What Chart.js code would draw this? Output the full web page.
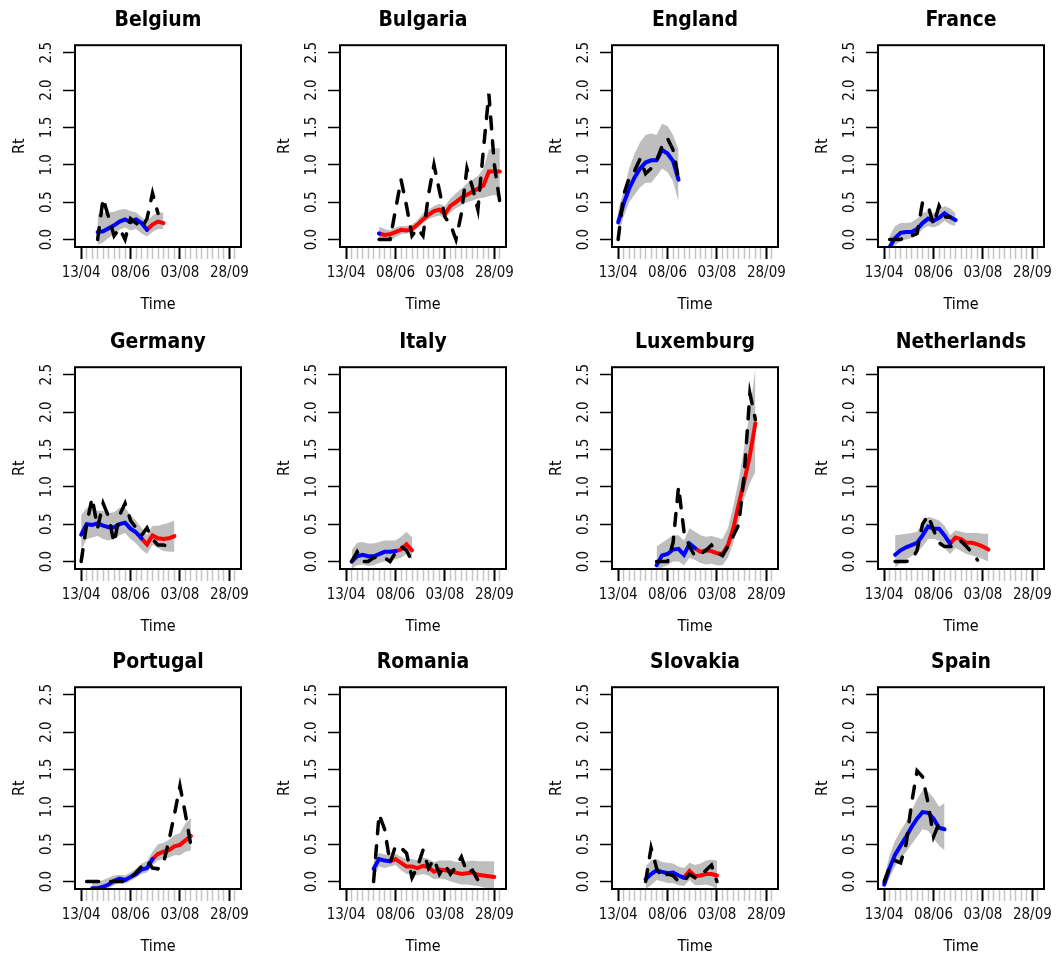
<!DOCTYPE html>
<html>
<head>
<meta charset="utf-8">
<script src="https://cdn.jsdelivr.net/npm/chart.js"></script>
<style>
  body { margin: 0; background: #fff; width: 1059px; height: 958px; overflow: hidden; position: relative; }
  canvas { position: absolute; }
</style>
</head>
<body>
<script>
// one panel per country, weekly Rt estimates (x = week index from 13/04)
const countries = ['Belgium', 'Bulgaria', 'England', 'France', 'Germany', 'Italy',
                   'Luxemburg', 'Netherlands', 'Portugal', 'Romania', 'Slovakia', 'Spain'];
const startWeek = [3, 6, 0, 1, 0, 1, 7, 2, 1, 5, 5, 0];
// week where the fitted line turns from blue to red (null = blue only)
const splitWeek = [12, 6, null, null, 11, 9, 14, 12, 13, 8, 12, null];

const fitRt = [
  [0.10, 0.11, 0.15, 0.19, 0.24, 0.27, 0.23, 0.27, 0.22, 0.13, 0.20, 0.24, 0.22],
  [0.08, 0.06, 0.07, 0.10, 0.13, 0.12, 0.14, 0.20, 0.27, 0.33, 0.38, 0.40, 0.34, 0.45, 0.50, 0.56, 0.60, 0.64, 0.68, 0.72, 0.91, 0.91, 0.91],
  [0.23, 0.48, 0.68, 0.83, 0.95, 1.03, 1.06, 1.06, 1.20, 1.15, 1.05, 0.80],
  [-0.10, 0.02, 0.09, 0.10, 0.10, 0.14, 0.22, 0.28, 0.25, 0.29, 0.35, 0.30, 0.26],
  [0.36, 0.50, 0.49, 0.51, 0.48, 0.46, 0.46, 0.50, 0.52, 0.44, 0.39, 0.31, 0.23, 0.35, 0.31, 0.30, 0.31, 0.34],
  [0.00, 0.07, 0.09, 0.07, 0.07, 0.10, 0.13, 0.13, 0.14, 0.16, 0.23, 0.15],
  [-0.05, 0.08, 0.10, 0.16, 0.17, 0.09, 0.24, 0.18, 0.13, 0.15, 0.14, 0.11, 0.10, 0.22, 0.45, 0.78, 1.08, 1.42, 1.85],
  [0.09, 0.15, 0.19, 0.22, 0.25, 0.35, 0.47, 0.44, 0.44, 0.35, 0.24, 0.32, 0.30, 0.25, 0.25, 0.23, 0.20, 0.16],
  [null, -0.09, -0.09, -0.07, -0.04, 0.01, 0.04, 0.02, 0.06, 0.10, 0.16, 0.18, 0.30, 0.37, 0.40, 0.42, 0.47, 0.49, 0.55, 0.61],
  [0.17, 0.30, 0.28, 0.27, 0.30, 0.25, 0.20, 0.20, 0.18, 0.21, 0.19, 0.13, 0.16, 0.15, 0.14, 0.12, 0.10, 0.11, 0.12, 0.09, 0.08, 0.07, 0.06],
  [0.03, 0.10, 0.15, 0.13, 0.11, 0.12, 0.08, 0.05, 0.14, 0.07, 0.08, 0.10, 0.10, 0.08],
  [-0.04, 0.18, 0.36, 0.48, 0.60, 0.73, 0.84, 0.93, 0.92, 0.84, 0.72, 0.70]
];
const lowerRt = [
  [-0.07, -0.04, 0.02, 0.07, 0.13, 0.16, 0.12, 0.14, 0.08, 0.04, 0.10, 0.14, 0.14],
  [0.00, -0.01, -0.02, 0.03, 0.07, 0.08, 0.10, 0.15, 0.22, 0.27, 0.30, 0.32, 0.28, 0.36, 0.42, 0.46, 0.50, 0.52, 0.55, 0.56, 0.58, 0.60, 0.55],
  [0.05, 0.30, 0.50, 0.60, 0.70, 0.76, 0.76, 0.85, 0.95, 0.90, 0.78, 0.50],
  [-0.20, -0.08, -0.02, 0.00, 0.02, 0.05, 0.14, 0.18, 0.16, 0.19, 0.25, 0.20, 0.18],
  [0.15, 0.30, 0.32, 0.34, 0.30, 0.28, 0.30, 0.35, 0.38, 0.30, 0.24, 0.16, 0.10, 0.22, 0.18, 0.14, 0.13, 0.13],
  [-0.10, -0.05, -0.04, -0.06, -0.05, -0.02, 0.00, 0.02, 0.03, 0.05, 0.10, 0.03],
  [-0.12, -0.08, -0.05, 0.00, 0.00, -0.05, 0.05, 0.02, -0.02, -0.04, -0.03, -0.05, -0.05, 0.05, 0.25, 0.55, 0.85, 1.05, 1.20],
  [-0.08, -0.02, 0.03, 0.07, 0.12, 0.20, 0.30, 0.30, 0.28, 0.18, 0.10, 0.18, 0.14, 0.10, 0.08, 0.06, 0.03, 0.00],
  [null, -0.12, -0.12, -0.11, -0.09, -0.05, -0.02, -0.03, 0.01, 0.05, 0.10, 0.12, 0.22, 0.28, 0.30, 0.32, 0.35, 0.35, 0.40, 0.42],
  [0.05, 0.20, 0.18, 0.20, 0.22, 0.15, 0.10, 0.10, 0.08, 0.10, 0.08, 0.03, 0.04, 0.03, 0.00, -0.02, -0.04, -0.04, -0.05, -0.06, -0.08, -0.09, -0.10],
  [-0.10, -0.05, 0.02, 0.00, -0.02, -0.02, -0.05, -0.06, 0.02, -0.05, -0.05, -0.04, -0.06, -0.10],
  [-0.10, 0.05, 0.20, 0.30, 0.40, 0.50, 0.60, 0.70, 0.68, 0.58, 0.48, 0.42]
];
const upperRt = [
  [0.33, 0.36, 0.36, 0.37, 0.40, 0.41, 0.38, 0.36, 0.30, 0.24, 0.32, 0.36, 0.36],
  [0.17, 0.14, 0.12, 0.16, 0.18, 0.18, 0.20, 0.26, 0.35, 0.40, 0.45, 0.48, 0.45, 0.55, 0.62, 0.68, 0.75, 0.80, 0.85, 0.95, 1.20, 1.22, 1.22],
  [0.40, 0.65, 0.95, 1.15, 1.30, 1.40, 1.42, 1.40, 1.55, 1.52, 1.40, 1.20],
  [0.05, 0.18, 0.22, 0.22, 0.23, 0.28, 0.35, 0.38, 0.35, 0.40, 0.45, 0.42, 0.35],
  [0.62, 0.72, 0.73, 0.68, 0.68, 0.65, 0.66, 0.72, 0.72, 0.62, 0.55, 0.45, 0.35, 0.48, 0.48, 0.50, 0.52, 0.55],
  [0.15, 0.25, 0.26, 0.24, 0.24, 0.26, 0.28, 0.28, 0.28, 0.33, 0.40, 0.32],
  [0.20, 0.25, 0.30, 0.35, 0.35, 0.28, 0.45, 0.40, 0.35, 0.33, 0.34, 0.32, 0.30, 0.45, 0.75, 1.10, 1.55, 2.00, 2.60],
  [0.35, 0.36, 0.37, 0.38, 0.40, 0.52, 0.60, 0.58, 0.55, 0.48, 0.35, 0.42, 0.40, 0.38, 0.38, 0.38, 0.37, 0.37],
  [null, 0.00, 0.00, 0.02, 0.05, 0.08, 0.09, 0.08, 0.12, 0.17, 0.24, 0.27, 0.40, 0.50, 0.52, 0.56, 0.62, 0.65, 0.78, 0.85],
  [0.30, 0.38, 0.36, 0.35, 0.37, 0.33, 0.30, 0.30, 0.28, 0.32, 0.30, 0.26, 0.28, 0.28, 0.28, 0.26, 0.26, 0.27, 0.28, 0.27, 0.27, 0.27, 0.27],
  [0.20, 0.28, 0.30, 0.26, 0.25, 0.24, 0.20, 0.18, 0.25, 0.22, 0.24, 0.28, 0.29, 0.28],
  [0.05, 0.35, 0.55, 0.68, 0.80, 0.95, 1.10, 1.22, 1.20, 1.12, 1.00, 1.05]
];
const rawRt = [
  [0.0, 0.55, 0.30, 0.05, 0.15, 0.0, 0.28, 0.22, 0.15, 0.28, 0.62, 0.35],
  [0.0, 0.0, 0.0, 0.4, 0.8, 0.45, 0.05, 0.15, 0.05, 0.6, 1.0, 0.65, 0.3, 0.2, 0.0, 0.35, 0.95, 0.7, 0.4, 1.2, 1.95, 1.0, 0.5],
  [0.0, 0.6, 0.82, 0.92, 1.08, 0.88, 0.95, 1.05, 1.25, 1.35, 1.2, 0.82],
  [0.0, 0.0, 0.0, 0.05, 0.05, 0.08, 0.5, 0.45, 0.2, 0.45, 0.3, 0.3],
  [0.0, 0.5, 0.85, 0.45, 0.78, 0.6, 0.25, 0.62, 0.78, 0.55, 0.45, 0.35, 0.45, 0.3, 0.22, 0.22, 0.2, 0.18],
  [0.0, 0.13, 0.0, 0.0, 0.05, 0.06, 0.05, 0.0, 0.12, 0.2, 0.15, 0.0],
  [0.0, 0.0, 0.0, 0.25, 1.0, 0.4, 0.2, 0.07, 0.10, 0.15, 0.22, 0.12, 0.08, 0.2, 0.35, 0.5, 1.2, 2.25, 1.9],
  [0.0, 0.0, 0.0, 0.02, 0.15, 0.5, 0.62, 0.42, 0.25, 0.2, 0.2, 0.2, 0.27, 0.2, 0.12, 0.02],
  [0.0, 0.0, 0.0, 0.0, 0.0, 0.0, 0.0, 0.0, 0.05, 0.12, 0.2, 0.28, 0.18, 0.17, 0.25, 0.55, 0.9, 1.28, 0.9, 0.48],
  [0.0, 0.9, 0.7, 0.25, 0.48, 0.45, 0.38, 0.05, 0.2, 0.42, 0.18, 0.3, 0.1, 0.22, 0.1, 0.2, 0.33, 0.12, 0.15, 0.02],
  [0.0, 0.45, 0.18, 0.05, 0.1, 0.08, 0.0, 0.0, 0.1, 0.05, 0.08, 0.15, 0.22, 0.0],
  [0.0, 0.2, 0.28, 0.25, 0.5, 1.05, 1.48, 1.4, 1.05, 0.6, 0.78, 0.7]
];

const xTickLabels = ['13/04', '08/06', '03/08', '28/09'];
const xLabelWeeks = [0, 9, 18, 27];
const yTickValues = [0, 0.5, 1, 1.5, 2, 2.5];

const FONT = "'DejaVu Sans Condensed', 'Liberation Sans Narrow', 'DejaVu Sans'";
const colLeft = [0, 265, 537, 803];
const rowTop = [0, 322, 642];

function toPoints(values, start, keep) {
  const out = [];
  values.forEach((v, i) => {
    const x = start + i;
    if (v !== null && (!keep || keep(x))) out.push({ x: x, y: v });
  });
  return out;
}

const boxPlugin = {
  id: 'box',
  afterDraw(chart) {
    const { ctx, chartArea: a } = chart;
    ctx.save();
    ctx.strokeStyle = '#000';
    ctx.lineWidth = 2;
    ctx.strokeRect(a.left, a.top, a.right - a.left, a.bottom - a.top);
    ctx.restore();
  }
};

const isMajor = c => c.tick && xLabelWeeks.indexOf(c.tick.value) >= 0;

countries.forEach((name, i) => {
  const canvas = document.createElement('canvas');
  canvas.width = 265;
  canvas.height = 316;
  canvas.style.left = colLeft[i % 4] + 'px';
  canvas.style.top = rowTop[Math.floor(i / 4)] + 'px';
  document.body.appendChild(canvas);

  const s = startWeek[i];
  const sp = splitWeek[i];

  new Chart(canvas, {
    type: 'line',
    data: {
      datasets: [
        { data: toPoints(upperRt[i], s), fill: '+1', backgroundColor: '#bebebe',
          borderColor: 'rgba(0,0,0,0)', borderWidth: 0, order: 4 },
        { data: toPoints(lowerRt[i], s), fill: false,
          borderColor: 'rgba(0,0,0,0)', borderWidth: 0, order: 5 },
        { data: toPoints(rawRt[i], s), borderColor: '#000', borderWidth: 3.5,
          borderDash: [12, 12], borderCapStyle: 'round', fill: false, order: 1 },
        { data: toPoints(fitRt[i], s, x => sp === null || x <= sp), borderColor: '#0000ff',
          borderWidth: 4, borderCapStyle: 'round', fill: false, order: 2 },
        { data: toPoints(fitRt[i], s, x => sp !== null && x >= sp), borderColor: '#ff0000',
          borderWidth: 4, borderCapStyle: 'round', fill: false, order: 2 }
      ]
    },
    options: {
      responsive: false,
      animation: false,
      devicePixelRatio: 1,
      layout: { padding: { left: 0, right: 24, top: 0, bottom: 0 } },
      elements: { point: { radius: 0 }, line: { tension: 0 } },
      plugins: {
        legend: { display: false },
        tooltip: { enabled: false },
        title: {
          display: true, text: name, color: '#000', fullSize: false,
          font: { family: FONT, size: 21, weight: 'bold' },
          padding: { top: 8, bottom: 12 }
        }
      },
      scales: {
        x: {
          type: 'linear', min: -1.12, max: 29.12,
          afterBuildTicks: sc => {
            const t = [];
            for (let w = 0; w <= 28; w++) t.push({ value: w });
            sc.ticks = t;
          },
          afterFit: sc => { sc.height = 69; },
          border: { display: false },
          grid: {
            drawOnChartArea: false, drawTicks: true, tickLength: 12,
            tickColor: c => isMajor(c) ? '#000' : '#c4c4c4',
            tickWidth: c => isMajor(c) ? 2 : 1.5
          },
          ticks: {
            autoSkip: false, minRotation: 0, maxRotation: 0, padding: 5,
            color: '#111', font: { family: FONT, size: 15 },
            callback: v => {
              const k = xLabelWeeks.indexOf(v);
              return k >= 0 ? xTickLabels[k] : '';
            }
          },
          title: {
            display: true, text: 'Time', color: '#000',
            font: { family: FONT, size: 16 }, padding: { top: 0, bottom: 2 }
          }
        },
        y: {
          type: 'linear', min: -0.1, max: 2.6,
          afterBuildTicks: sc => { sc.ticks = yTickValues.map(v => ({ value: v })); },
          afterFit: sc => { sc.width = 75; },
          border: { display: false },
          grid: { drawOnChartArea: false, drawTicks: true, tickLength: 12, tickColor: '#000', tickWidth: 1.5 },
          ticks: {
            minRotation: 90, maxRotation: 90, crossAlign: 'center', padding: 5,
            color: '#111', font: { family: FONT, size: 15 },
            callback: v => v.toFixed(1)
          },
          title: {
            display: true, text: 'Rt', color: '#000',
            font: { family: FONT, size: 16 }, padding: { top: 10, bottom: 0 }
          }
        }
      }
    },
    plugins: [boxPlugin]
  });
});
</script>
</body>
</html>
